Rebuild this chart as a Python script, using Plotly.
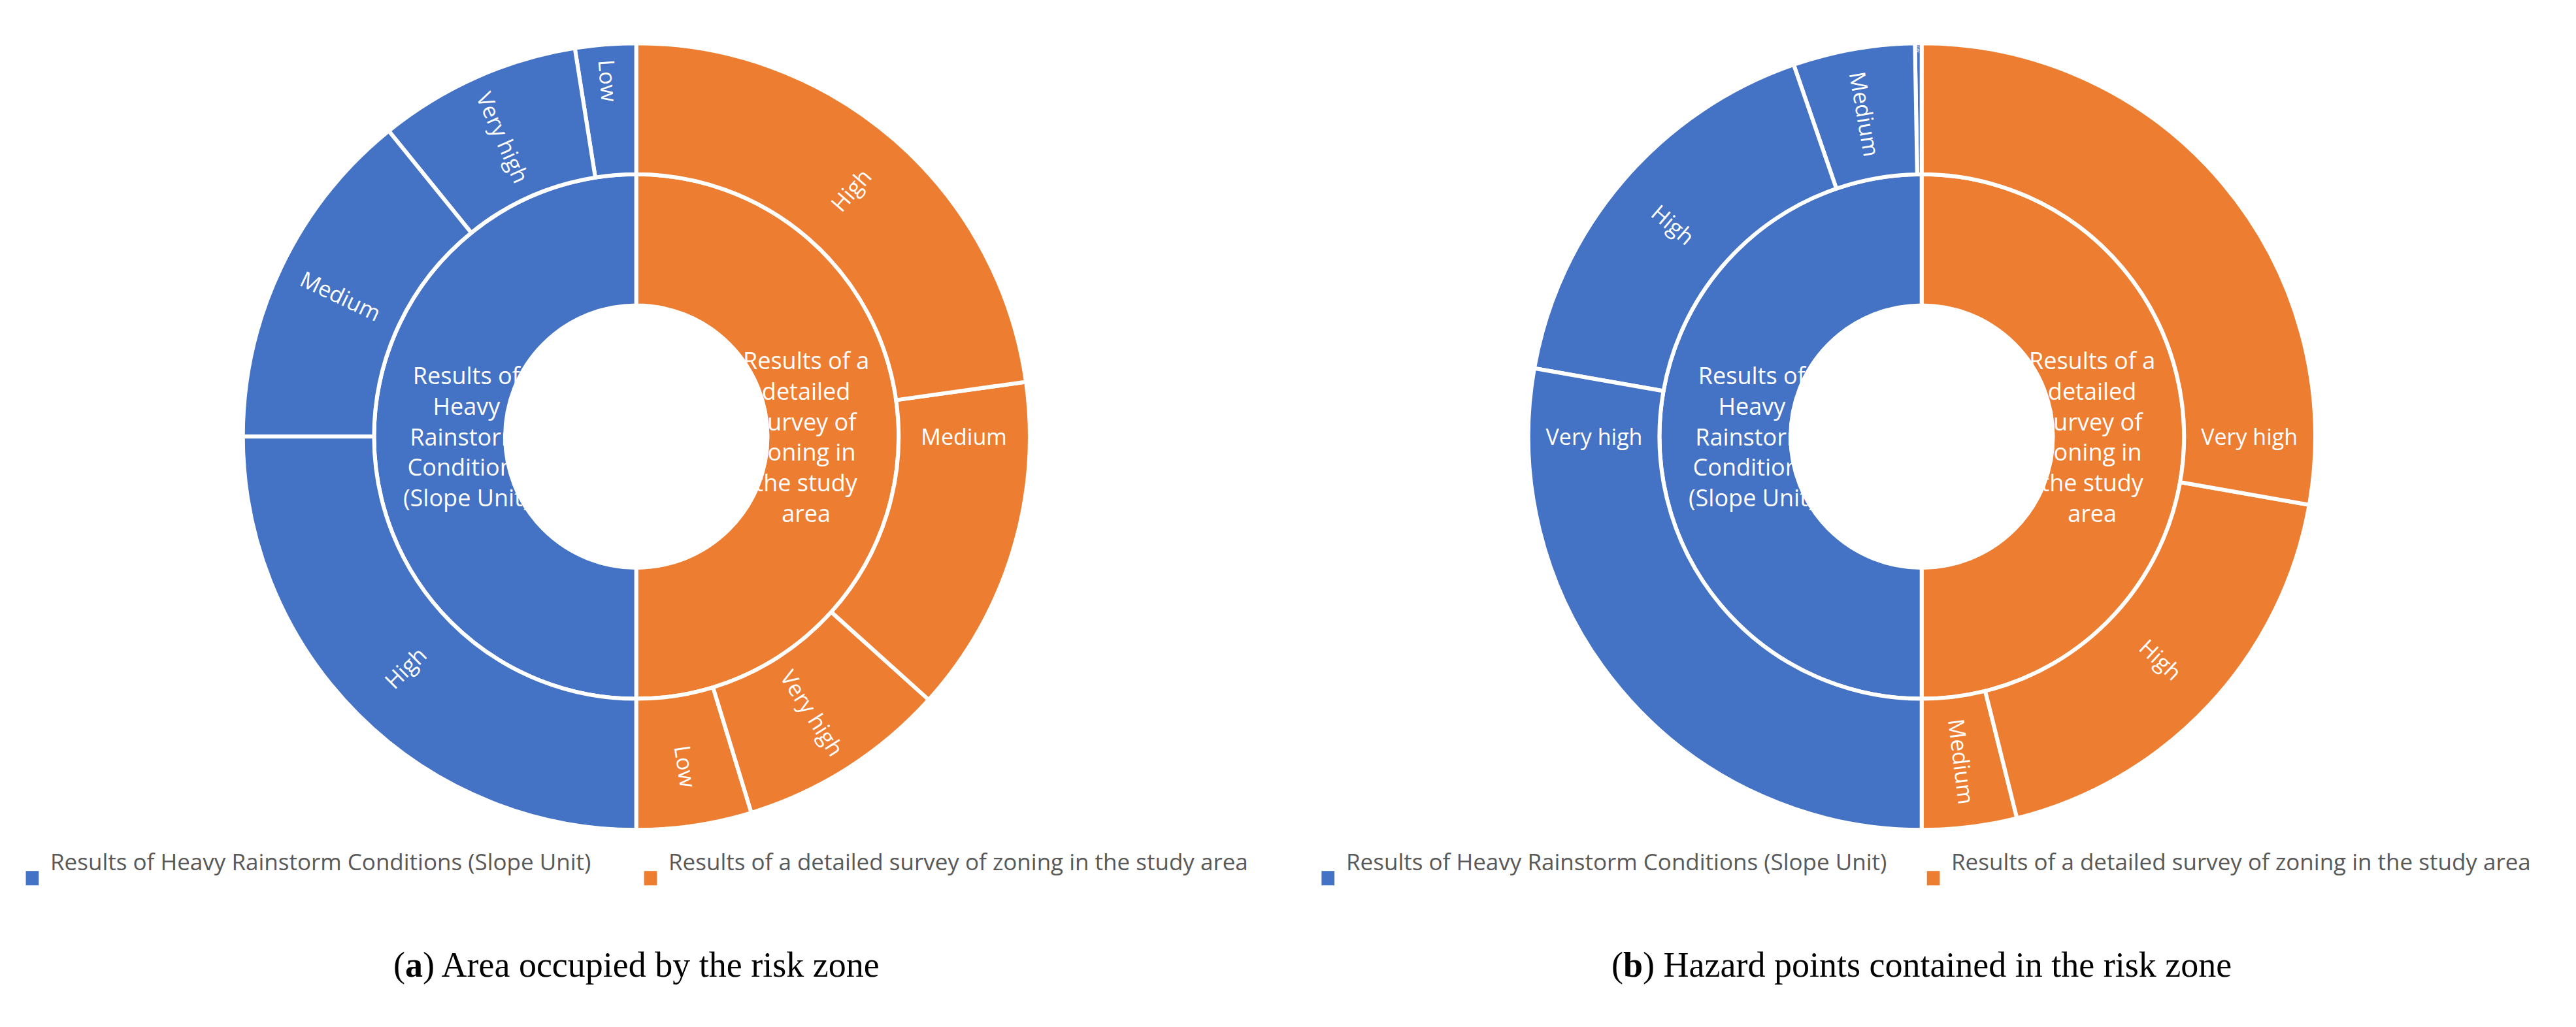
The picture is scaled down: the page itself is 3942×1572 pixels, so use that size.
import plotly.graph_objects as go

blue = "#4472C4"
orange = "#ED7D31"
inner_blue = "Results of<br>Heavy<br>Rainstorm<br>Conditions<br>(Slope Unit)"
inner_orange = "Results of a<br>detailed<br>survey of<br>zoning in<br>the study<br>area"

# Chart (a): area occupied (degrees of 360)
a_blue_labels = ["Low", "Very high", "Medium", "High"]
a_blue_values = [9, 30, 51, 90]
a_orange_labels = ["Low", "Very high", "Medium", "High"]
a_orange_values = [17, 31, 50, 82]

# Chart (b): hazard points
b_blue_labels = ["Low", "Medium", "High", "Very high"]
b_blue_values = [1, 18, 61, 100]
b_orange_labels = ["Medium", "High", "Very high"]
b_orange_values = [14, 66, 100]


def make(bl, bv, ol, ov, domx):
    ids = ["root", "B", "O"]
    labels = ["", "B", "O"]
    parents = ["", "root", "root"]
    values = [sum(bv) + sum(ov), sum(bv), sum(ov)]
    colors = ["rgba(0,0,0,0)", blue, orange]
    text = ["", "", ""]
    for l, v in zip(bl, bv):
        ids.append("B-" + l); labels.append(l); parents.append("B"); values.append(v)
        colors.append(blue); text.append(l)
    for l, v in zip(ol, ov):
        ids.append("O-" + l); labels.append(l); parents.append("O"); values.append(v)
        colors.append(orange); text.append(l)
    return go.Sunburst(
        ids=ids, labels=labels, parents=parents, values=values, text=text,
        branchvalues="total", sort=False, rotation=90,
        texttemplate="%{text}", insidetextorientation="radial",
        marker=dict(colors=colors, line=dict(color="white", width=6)),
        leaf=dict(opacity=1),
        textfont=dict(color="white", size=34, family="Open Sans"),
        domain=dict(x=domx, y=[0.197, 0.963]), hoverinfo="label+value",
    )


fig = go.Figure()
fig.add_trace(make(a_blue_labels, a_blue_values, a_orange_labels, a_orange_values, [0.092, 0.398]))
fig.add_trace(make(b_blue_labels, b_blue_values, b_orange_labels, b_orange_values, [0.591, 0.897]))

ann = []
for cx in [0.245, 0.744]:
    ann.append(dict(x=cx - 0.066, y=0.58, xref="paper", yref="paper", xanchor="center", text=inner_blue,
                    showarrow=False, font=dict(color="white", size=36, family="Open Sans")))
    ann.append(dict(x=cx + 0.066, y=0.58, xref="paper", yref="paper", xanchor="center", text=inner_orange,
                    showarrow=False, font=dict(color="white", size=36, family="Open Sans")))

shapes = []
leg = [(0.008, blue, "Results of Heavy Rainstorm Conditions (Slope Unit)"),
       (0.248, orange, "Results of a detailed survey of zoning in the study area"),
       (0.511, blue, "Results of Heavy Rainstorm Conditions (Slope Unit)"),
       (0.746, orange, "Results of a detailed survey of zoning in the study area")]
for x, c, t in leg:
    shapes.append(dict(type="rect", xref="paper", yref="paper", x0=x, x1=x + 0.005, y0=0.143, y1=0.157,
                       fillcolor=c, line=dict(width=0)))
    ann.append(dict(x=x + 0.009, y=0.15, xref="paper", yref="paper", xanchor="left", text=t, showarrow=False,
                    font=dict(color="#595959", size=35, family="Open Sans")))

ann.append(dict(x=0.245, y=0.045, xref="paper", yref="paper", xanchor="center", showarrow=False,
                text="(<b>a</b>) Area occupied by the risk zone",
                font=dict(color="black", size=54, family="Liberation Serif")))
ann.append(dict(x=0.744, y=0.045, xref="paper", yref="paper", xanchor="center", showarrow=False,
                text="(<b>b</b>) Hazard points contained in the risk zone",
                font=dict(color="black", size=54, family="Liberation Serif")))

fig.update_layout(width=3942, height=1572, margin=dict(l=0, r=0, t=0, b=0),
                  paper_bgcolor="white", annotations=ann, shapes=shapes, showlegend=False)
fig.write_html("out.html")
